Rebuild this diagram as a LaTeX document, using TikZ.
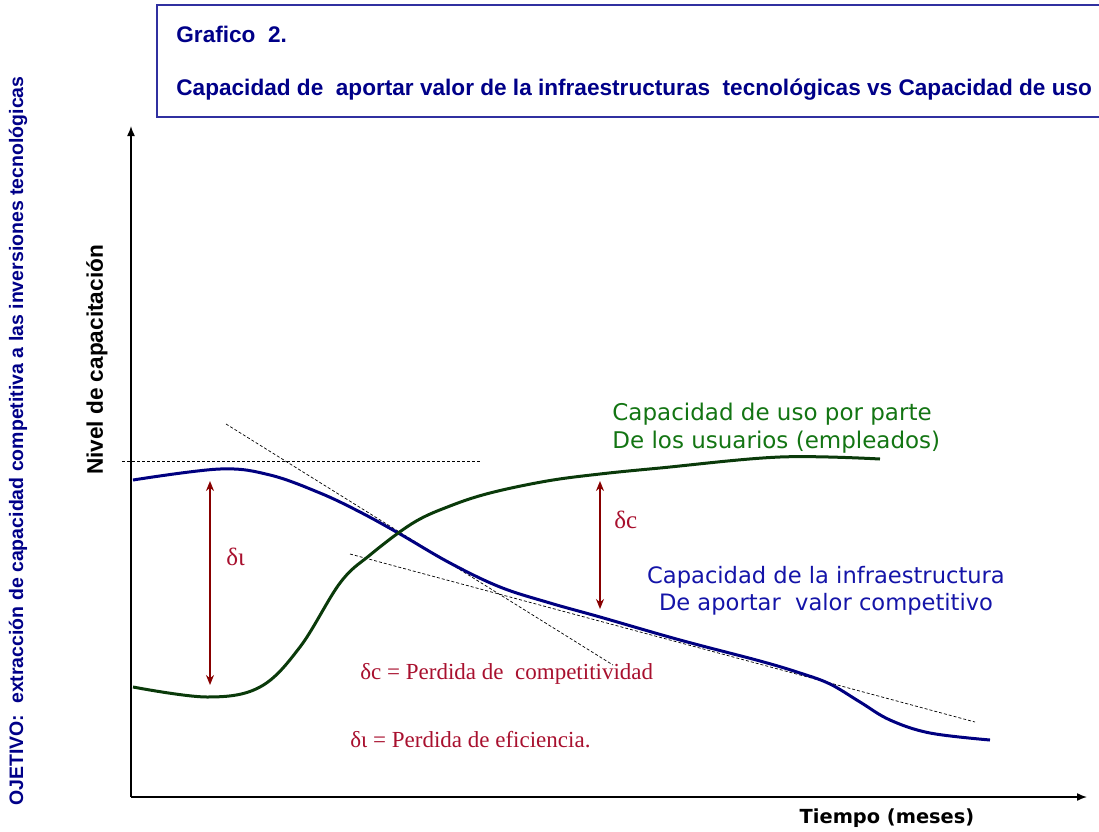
\documentclass[tikz,border=0pt]{standalone}
\usepackage{fontspec}
\setmainfont{Liberation Serif}
\newfontfamily\arialfont{Liberation Sans}
\newfontfamily\verdanafont{DejaVu Sans}
\usepackage{tikz}
\usetikzlibrary{arrows.meta}

\definecolor{titulo}{HTML}{000088}
\definecolor{marco}{HTML}{3030A0}
\definecolor{infra}{HTML}{000080}
\definecolor{uso}{HTML}{0A3A0A}
\definecolor{flecha}{HTML}{880000}
\definecolor{rojo}{HTML}{A8102E}
\definecolor{verde}{HTML}{137513}
\definecolor{azul}{HTML}{1414A8}

\begin{document}
\begin{tikzpicture}[x=0.5pt, y=-0.5pt,
    eje/.style={line width=0.75pt, -{Latex[length=5pt,width=4pt]}},
    curva/.style={line width=1.5pt, line join=round},
    tangente/.style={line width=0.35pt, dash pattern=on 1.5pt off 1pt},
    delta/.style={flecha, line width=0.9pt, {Stealth[length=5pt,width=4pt]}-{Stealth[length=5pt,width=4pt]}},
    etiqueta/.style={inner sep=0pt, anchor=base west}]
    \useasboundingbox (0,0) rectangle (1099,831);
    \draw [marco, line width=0.6pt] (1099,5) -- (157,5) -- (157,117) -- (1099,117);
    \node (graf) [etiqueta, titulo, font=\arialfont\bfseries\fontsize{11.3}{13}\selectfont] at (176,42) {Grafico\ \ 2.};
    \node (tit) [etiqueta, titulo, font=\arialfont\bfseries\fontsize{11.3}{13}\selectfont] at (176,95)
        {Capacidad de\ \ aportar valor de la infraestructuras\ \ tecnológicas vs Capacidad de uso};
    \node (obj) [titulo, rotate=90, inner sep=0pt, font=\arialfont\bfseries\fontsize{9.75}{11}\selectfont] at (18,441)
        {OJETIVO:\ \ extracción de capacidad competitiva a las inversiones tecnológicas};

    \coordinate (o) at (131,797);
    \coordinate (ytop) at (131,126);
    \coordinate (xend) at (1087,797);
    \draw [eje] (o) -- (ytop);
    \draw [eje] (o) -- (xend);
    \node (nivel) [rotate=90, inner sep=0pt, font=\arialfont\bfseries\fontsize{11.3}{13}\selectfont] at (97,360) {Nivel de capacitación};
    \node (tiempo) [inner sep=0pt, font=\verdanafont\bfseries\fontsize{9.7}{11}\selectfont] at (887,818) {Tiempo (meses)};

    \draw [tangente] (122,461) -- (480,461);
    \draw [tangente] (226,424) -- (613,665);
    \draw [tangente] (350,554) -- (975,722);

    \draw [curva, infra] plot [smooth, tension=0.6] coordinates {(133,480) (220,469) (270,475) (320,493) (360,512)
        (400,534) (450,563) (500,587) (550,603) (600,617) (680,640) (760,661) (800,673) (830,684) (860,702)
        (890,720) (930,733) (990,740)};
    \draw [curva, uso] plot [smooth, tension=0.6] coordinates {(133,687) (207,697) (260,687) (300,647) (340,583)
        (370,555) (413,523) (450,506) (490,493) (547,481) (600,474) (660,468) (780,457) (880,459)};

    \coordinate (di-a) at (210,481);
    \coordinate (di-b) at (210,685);
    \coordinate (dc-a) at (600,481);
    \coordinate (dc-b) at (600,609);
    \draw [delta] (di-a) -- (di-b);
    \draw [delta] (dc-a) -- (dc-b);
    \node (di) [etiqueta, rojo, font=\fontsize{12.5}{14}\selectfont] at (226,565) {δι};
    \node (dc) [etiqueta, rojo, font=\fontsize{12.5}{14}\selectfont] at (614,528) {δc};

    \node (usuarios) [verde, inner sep=0pt, anchor=north west, align=left, font=\verdanafont\fontsize{11.5}{14}\selectfont] at (612,403)
        {Capacidad de uso por parte\\De los usuarios (empleados)};
    \node (capinf) [azul, inner sep=0pt, align=center, font=\verdanafont\fontsize{11.3}{13.5}\selectfont] at (826,591)
        {Capacidad de la infraestructura\\De aportar\ \ valor competitivo};

    \node (perdc) [etiqueta, rojo, font=\fontsize{11.5}{13}\selectfont] at (360,679) {δc = Perdida de\ \ competitividad};
    \node (perdi) [etiqueta, rojo, font=\fontsize{11.5}{13}\selectfont] at (350,747) {δι = Perdida de eficiencia.};
\end{tikzpicture}
\end{document}
